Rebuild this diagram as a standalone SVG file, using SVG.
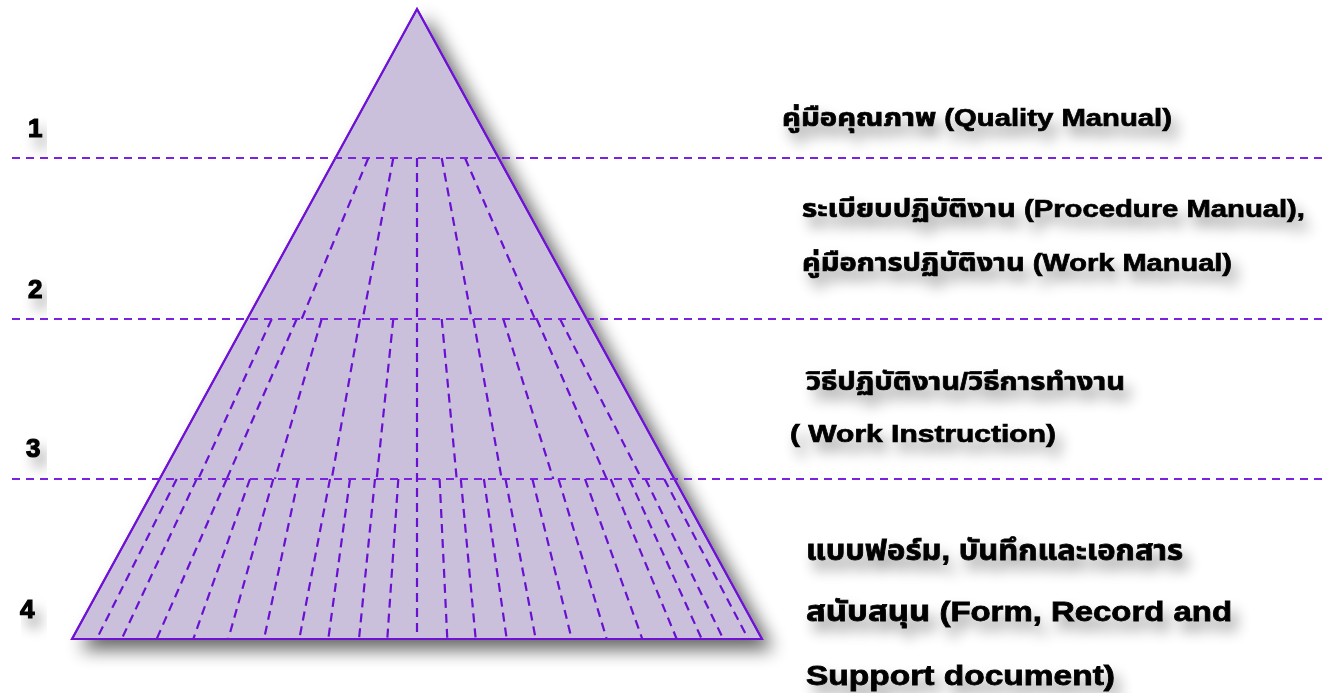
<svg xmlns="http://www.w3.org/2000/svg" width="1325" height="693" viewBox="0 0 1325 693">
<defs>
<filter id="triShadow" x="-20%" y="-20%" width="150%" height="150%">
<feGaussianBlur in="SourceAlpha" stdDeviation="9"/>
<feOffset dx="10" dy="10" result="b"/>
<feComponentTransfer><feFuncA type="linear" slope="0.6"/></feComponentTransfer>
<feMerge><feMergeNode/><feMergeNode in="SourceGraphic"/></feMerge>
</filter>
<filter id="txtShadow" x="-20%" y="-60%" width="140%" height="260%">
<feGaussianBlur in="SourceAlpha" stdDeviation="7"/>
<feOffset dx="6" dy="10"/>
<feComponentTransfer><feFuncA type="linear" slope="0.4"/></feComponentTransfer>
<feMerge><feMergeNode/><feMergeNode in="SourceGraphic"/></feMerge>
</filter>
<style>
.tri{fill:#cbc0dc;stroke:#6f12d4;stroke-width:2;stroke-linejoin:miter}
.dash{fill:none;stroke:#6a10d0;stroke-width:2.2;stroke-dasharray:9 6}
.hdash{fill:none;stroke:#7a22dc;stroke-width:2;stroke-dasharray:8 6}
.num{font-family:'Liberation Sans',Arial,sans-serif;font-weight:bold;font-size:26px;fill:#000;stroke:#000;stroke-width:1.2}
.lbl{font-family:'Liberation Sans','Noto Sans Thai','Noto Sans','DejaVu Sans',sans-serif;font-weight:bold;font-size:24px;fill:#000;stroke:#000;stroke-width:0.7}
.lbl2{font-family:'Liberation Sans','Noto Sans Thai','Noto Sans','DejaVu Sans',sans-serif;font-weight:bold;font-size:28px;fill:#000;stroke:#000;stroke-width:0.8}
</style>
</defs>
<rect width="1325" height="693" fill="#ffffff"/>
<g id="pyramid">
<polygon class="tri" points="417,9 762,639 72,639" filter="url(#triShadow)"/>
</g>
<g id="connectors">
<g id="band-2-rays">
<path class="dash" d="M368.3,158 L301.7,319 M393.3,158 L362.7,319 M441.7,158 L471.7,319 M465,158 L535,319"/>
</g>
<g id="band-3-rays">
<path class="dash" d="M271.7,319 L198.3,479 M296.7,319 L226.7,479 M321.7,319 L275,479 M360,319 L331.7,479 M393.3,319 L376.7,479 M441.7,319 L456.7,479 M473.3,319 L501.7,479 M503.3,319 L553.3,479 M536.7,319 L606.7,479 M560,319 L641.7,479"/>
</g>
<g id="band-4-rays">
<path class="dash" d="M176.7,479 L96.7,639 M196.7,479 L121.7,639 M226.7,479 L156.7,639 M250,479 L193.3,639 M273.3,479 L228.3,639 M298.3,479 L264,639 M330,479 L299.3,639 M350,479 L328.3,639 M375,479 L359,639 M398.3,479 L387.3,639 M439.6,479 L447.3,639 M460.8,479 L475.7,639 M483.9,479 L506.7,639 M505.5,479 L535.7,639 M532.4,479 L571.7,639 M558.5,479 L606.7,639 M585,479 L642.3,639 M610.7,479 L676.7,639 M629.4,479 L701.7,639 M645.5,479 L723.3,639 M664.2,479 L748.3,639"/>
</g>
<path id="center-ray" class="dash" d="M417,158 L417,639"/>
<polygon points="417,9 762,639 72,639" fill="none" stroke="#6f12d4" stroke-width="2"/>
<g id="dividers">
<line class="hdash" x1="12" y1="158" x2="1325" y2="158"/>
<line class="hdash" x1="12" y1="319" x2="1325" y2="319"/>
<line class="hdash" x1="12" y1="479" x2="1325" y2="479"/>
</g>
</g>
<g id="level-numbers" filter="url(#txtShadow)">
<text class="num" x="28" y="137">1</text>
<text class="num" x="28" y="298">2</text>
<text class="num" x="26" y="457">3</text>
<text class="num" x="20" y="618">4</text>
</g>
<g id="level-1" filter="url(#txtShadow)">
<text class="lbl" x="782" y="126" textLength="390" lengthAdjust="spacingAndGlyphs">คู่มือคุณภาพ (Quality Manual)</text>
</g>
<g id="level-2" filter="url(#txtShadow)">
<text class="lbl" x="802" y="217" textLength="503" lengthAdjust="spacingAndGlyphs">ระเบียบปฏิบัติงาน (Procedure Manual),</text>
<text class="lbl" x="802" y="271" textLength="430" lengthAdjust="spacingAndGlyphs">คู่มือการปฏิบัติงาน (Work Manual)</text>
</g>
<g id="level-3" filter="url(#txtShadow)">
<text class="lbl" x="806" y="390" textLength="319" lengthAdjust="spacingAndGlyphs">วิธีปฏิบัติงาน/วิธีการทำงาน</text>
<text class="lbl" x="790" y="442" textLength="266" lengthAdjust="spacingAndGlyphs">( Work Instruction)</text>
</g>
<g id="level-4" filter="url(#txtShadow)">
<text class="lbl2" x="806" y="560" textLength="377" lengthAdjust="spacingAndGlyphs">แบบฟอร์ม, บันทึกและเอกสาร</text>
<text class="lbl2" x="806" y="621" textLength="426" lengthAdjust="spacingAndGlyphs">สนับสนุน (Form, Record and</text>
<text class="lbl2" x="806" y="685" textLength="309" lengthAdjust="spacingAndGlyphs">Support document)</text>
</g>
</svg>
